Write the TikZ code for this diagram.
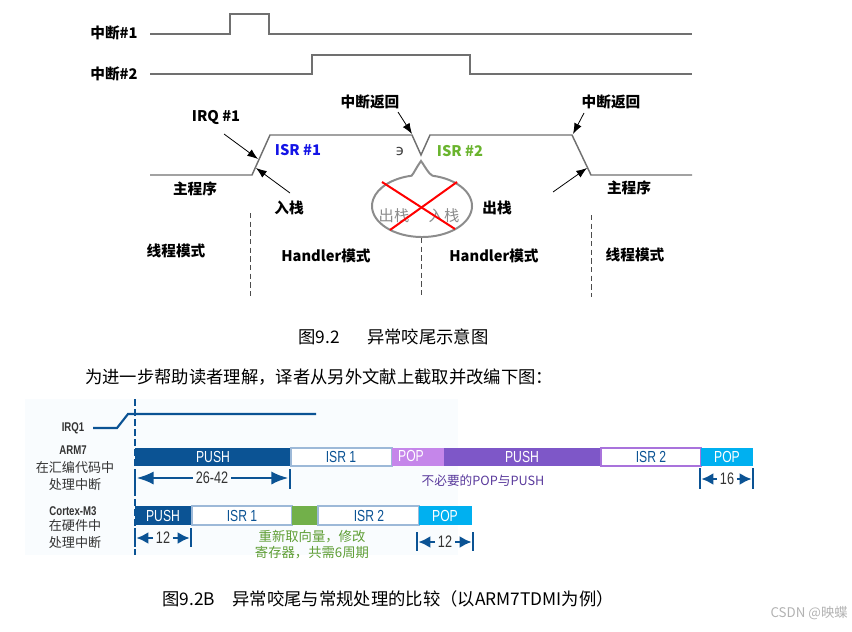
\documentclass[tikz,border=0pt]{standalone}
\usepackage{fontspec}
\setmainfont{Noto Sans CJK SC}
\newfontfamily\cond[FakeStretch=0.76]{Liberation Sans}
\newfontfamily\dejavu{DejaVu Sans}
\usetikzlibrary{arrows.meta}
\definecolor{wavegray}{HTML}{707070}
\definecolor{isrblue}{HTML}{1414E6}
\definecolor{isrgreen}{HTML}{6AB42E}
\definecolor{bubgray}{HTML}{8C8C8C}
\definecolor{dblue}{HTML}{0B5394}
\definecolor{lpurple}{HTML}{C586EA}
\definecolor{dpurple}{HTML}{7E57C8}
\definecolor{cyanb}{HTML}{00B0F0}
\definecolor{gbox}{HTML}{72B04A}
\definecolor{gtext}{HTML}{5F9E35}
\definecolor{ptext}{HTML}{5A3A9C}
\definecolor{lbg}{HTML}{F9FCFE}
\definecolor{isrborder}{HTML}{9DB9D8}
\definecolor{lblgray}{HTML}{333333}
\tikzset{
  wave/.style={draw=wavegray, line width=1.1pt},
  callout/.style={draw=black, line width=0.6pt, -{Latex[length=8pt,width=6pt]}},
  toplbl/.style={font=\fontsize{11}{13}\selectfont\bfseries, inner sep=0pt},
  modelbl/.style={font=\fontsize{11}{13}\selectfont\bfseries, inner sep=0pt},
  bubtxt/.style={font=\fontsize{11.5}{13}\selectfont, text=bubgray, inner sep=0pt},
  vdash/.style={draw=black!70, line width=0.6pt, dash pattern=on 4pt off 2.5pt},
  redx/.style={draw=red, line width=1.5pt},
  bubble/.style={draw=bubgray, line width=1.5pt},
  barlbl/.style={font=\cond\fontsize{12}{12}\selectfont, inner sep=0pt},
  leftlbl/.style={font=\cond\bfseries\fontsize{9.5}{10}\selectfont, text=lblgray, inner sep=0pt},
  leftcjk/.style={font=\fontsize{9.8}{12.5}\selectfont, text=lblgray, inner sep=0pt, align=center},
  dimarrow/.style={draw=dblue, line width=2.2pt, -{Latex[length=13pt,width=10pt]}},
  dimshort/.style={draw=dblue, line width=2.2pt, -{Latex[length=9pt,width=9pt]}},
  dimbar/.style={draw=dblue, line width=2.2pt},
  dimlbl/.style={font=\cond\fontsize{12.5}{13}\selectfont, text=lblgray, inner sep=2pt}
}
\begin{document}
\begin{tikzpicture}[x=0.75pt,y=-0.75pt]
\useasboundingbox (0,0) rectangle (852,631);

% ---------- top timing waveforms ----------
\draw[wave] (150,34) -- (230,34) -- (230,14) -- (269,14) -- (269,34) -- (692,34);
\draw[wave] (150,74) -- (312,74) -- (312,55) -- (470,55) -- (470,74) -- (692,74);
\node[toplbl] (int1) at (114,33) {中断\#1};
\node[toplbl] (int2) at (114,74) {中断\#2};

\draw[wave] (150,175) -- (252,175) -- (270,135) -- (412,135) -- (421,155) -- (430,135)
            -- (572,135) -- (591,175) -- (692,175);

\node[toplbl] (irq) at (216,117) {IRQ \#1};
\node[toplbl] (ret1) at (370,102) {中断返回};
\node[toplbl] (ret2) at (611,102) {中断返回};
\node[toplbl] (main1) at (195,189) {主程序};
\node[toplbl] (main2) at (629,188) {主程序};
\node[toplbl] (push1) at (289,208) {入栈};
\node[toplbl] (pop1) at (497,208) {出栈};
\node[toplbl, text=isrblue] (isr1) at (298,150) {ISR \#1};
\node[toplbl, text=isrgreen] (isr2) at (460,151) {ISR \#2};
\node[font=\dejavu\fontsize{11}{12}\selectfont, text=black!75, inner sep=0pt] (odd) at (400,151) {϶};

\coordinate (irqS) at (224,134);  \coordinate (irqT) at (258,159);
\coordinate (pushS) at (290,193); \coordinate (pushT) at (256,168);
\coordinate (ret1S) at (398,112); \coordinate (ret1T) at (412,134);
\coordinate (ret2S) at (584,113); \coordinate (ret2T) at (573,134);
\coordinate (mainS) at (553,192); \coordinate (mainT) at (587,168);
\draw[callout] (irqS) -- (irqT);
\draw[callout] (pushS) -- (pushT);
\draw[callout] (ret1S) -- (ret1T);
\draw[callout] (ret2S) -- (ret2T);
\draw[callout] (mainS) -- (mainT);

% speech bubble with cross
\draw[bubble] (432.4,175.7) arc[start angle=-78, end angle=258, x radius=50, y radius=31]
   .. controls (414,173) and (416,168) .. (421,161)
   .. controls (426,168) and (428,173) .. (432.4,175.7);
\node[bubtxt] (bpop) at (394,216) {出栈};
\node[bubtxt] (bpush) at (444,216) {入栈};
\draw[redx] (382,182) -- (455,229);
\draw[redx] (457,182) -- (390,230);

% mode separators
\draw[vdash] (250,213) -- (250,297);
\draw[vdash] (421,238) -- (421,297);
\draw[vdash] (591,215) -- (591,297);
\node[modelbl] (m1) at (176,251) {线程模式};
\node[modelbl] (m2) at (326,256) {Handler模式};
\node[modelbl] (m3) at (494,256) {Handler模式};
\node[modelbl] (m4) at (635,255) {线程模式};

\node[font=\fontsize{13}{15}\selectfont, inner sep=0pt, anchor=west] (cap1a) at (298,337) {图9.2};
\node[font=\fontsize{13}{15}\selectfont, inner sep=0pt, anchor=west] (cap1b) at (367,337) {异常咬尾示意图};

\node[font=\fontsize{13}{15}\selectfont, inner sep=0pt, anchor=west] (para) at (85,377)
  {为进一步帮助读者理解，译者从另外文献上截取并改编下图：};

% ---------- lower comparison chart ----------
\fill[lbg] (25,399) rectangle (458,555);

\node[leftlbl] (lirq) at (73,428) {IRQ1};
\node[leftlbl] (larm) at (73,450) {ARM7};
\node[leftcjk] (larmt) at (75,476) {在汇编代码中\\处理中断};
\node[leftlbl] (lcm) at (73,511) {Cortex-M3};
\node[leftcjk] (lcmt) at (75,534) {在硬件中\\处理中断};

\draw[dblue, line width=1.8pt, dash pattern=on 5pt off 2.5pt] (135,399) -- (135,555);
\draw[dblue, line width=1.6pt] (93,428) -- (117,428) -- (128,414) -- (316,414);

% ARM7 row
\fill[dblue] (135,448) rectangle (291,466);
\draw[isrborder, line width=0.8pt, fill=white] (291,448) rectangle (392,466);
\fill[lpurple] (392,448) rectangle (444,466);
\fill[dpurple] (444,448) rectangle (601,466);
\draw[lpurple!60!dpurple, line width=0.8pt, fill=white] (601,448) rectangle (701,466);
\fill[cyanb] (701,448) rectangle (753,466);
\node[barlbl, text=white] (a1) at (213,457) {PUSH};
\node[barlbl, text=dblue] (a2) at (341,457) {ISR 1};
\node[barlbl, text=white] (a3) at (411,456) {POP};
\node[barlbl, text=white] (a4) at (522,457) {PUSH};
\node[barlbl, text=dblue] (a5) at (651,457) {ISR 2};
\node[barlbl, text=white] (a6) at (727,457) {POP};

% Cortex-M3 row
\fill[dblue] (135,506) rectangle (192,525);
\draw[isrborder, line width=0.8pt, fill=white] (192,506) rectangle (292,525);
\fill[gbox] (292,506) rectangle (318,525);
\draw[isrborder, line width=0.8pt, fill=white] (318,506) rectangle (419,525);
\fill[cyanb] (419,506) rectangle (472,525);
\node[barlbl, text=white] (c1) at (163,516) {PUSH};
\node[barlbl, text=dblue] (c2) at (242,516) {ISR 1};
\node[barlbl, text=dblue] (c3) at (369,516) {ISR 2};
\node[barlbl, text=white] (c4) at (445,516) {POP};

% dimension arrows
\coordinate (d1L) at (135,478); \coordinate (d1R) at (290,478);
\draw[dimbar] (135,469) -- (135,489);
\draw[dimbar] (290,469) -- (290,489);
\node[dimlbl] (d1) at (212,478) {26-42};
\draw[dimarrow] (d1.west) -- ([xshift=1pt]d1L);
\draw[dimarrow] (d1.east) -- ([xshift=-1pt]d1R);

\coordinate (d2L) at (135,538); \coordinate (d2R) at (191,538);
\draw[dimbar] (135,528) -- (135,547);
\draw[dimbar] (191,528) -- (191,547);
\node[dimlbl] (d2) at (163,538) {12};
\draw[dimshort] (d2.west) -- ([xshift=1pt]d2L);
\draw[dimshort] (d2.east) -- ([xshift=-1pt]d2R);

\coordinate (d3L) at (700,479); \coordinate (d3R) at (753,479);
\draw[dimbar] (700,468) -- (700,489);
\draw[dimbar] (753,468) -- (753,489);
\node[dimlbl] (d3) at (727,479) {16};
\draw[dimshort] (d3.west) -- ([xshift=1pt]d3L);
\draw[dimshort] (d3.east) -- ([xshift=-1pt]d3R);

\coordinate (d4L) at (417,542); \coordinate (d4R) at (473,542);
\draw[dimbar] (417,532) -- (417,551);
\draw[dimbar] (473,532) -- (473,551);
\node[dimlbl] (d4) at (445,542) {12};
\draw[dimshort] (d4.west) -- ([xshift=1pt]d4L);
\draw[dimshort] (d4.east) -- ([xshift=-1pt]d4R);

\node[font=\fontsize{9.5}{11}\selectfont, text=ptext, inner sep=0pt] (note1) at (483,481) {不必要的POP与PUSH};
\node[font=\fontsize{10}{12}\selectfont, text=gtext, inner sep=0pt, align=center] (note2) at (312,545)
  {重新取向量，修改\\寄存器，共需6周期};

\node[font=\fontsize{13}{15}\selectfont, inner sep=0pt, anchor=west] (cap2) at (162,599)
  {图9.2B\hspace{1em}异常咬尾与常规处理的比较（以ARM7TDMI为例）};

\node[font=\fontsize{10}{12}\selectfont, text=black!30, inner sep=0pt, anchor=east] (wm) at (848,613) {CSDN @映蝶};
\end{tikzpicture}
\end{document}
